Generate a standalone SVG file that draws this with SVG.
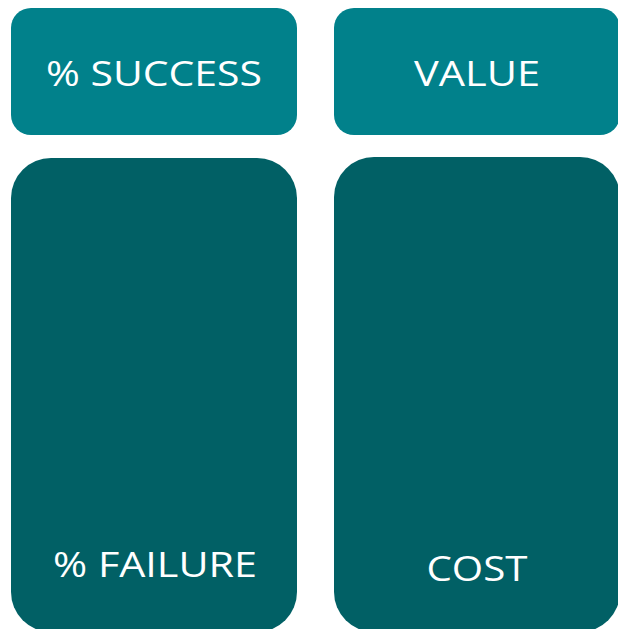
<svg xmlns="http://www.w3.org/2000/svg" width="618" height="629" viewBox="0 0 618 629">
<style>
.top{fill:#01818b}
.bot{fill:#016065}
.lbl{fill:#ffffff;font-family:"Open Sans","Liberation Sans",sans-serif;font-size:35px;text-anchor:middle}
</style>
<rect width="618" height="629" fill="#ffffff"/>
<g id="success"><rect class="top" x="11" y="8" width="286" height="127" rx="20" ry="20"/><text class="lbl" x="154" y="86" textLength="216" lengthAdjust="spacingAndGlyphs">% SUCCESS</text></g>
<g id="value"><rect class="top" x="334" y="8" width="286" height="127" rx="20" ry="20"/><text class="lbl" x="477" y="86" textLength="126" lengthAdjust="spacingAndGlyphs">VALUE</text></g>
<g id="failure"><rect class="bot" x="11" y="158" width="286" height="474" rx="40" ry="40"/><text class="lbl" x="155" y="577" textLength="204" lengthAdjust="spacingAndGlyphs">% FAILURE</text></g>
<g id="cost"><rect class="bot" x="334" y="157" width="286" height="475" rx="40" ry="40"/><text class="lbl" x="477" y="581" textLength="101" lengthAdjust="spacingAndGlyphs">COST</text></g>
<g id="connectors"/>
</svg>
